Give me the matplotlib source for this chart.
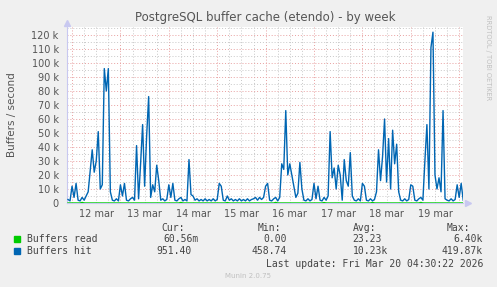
import numpy as np
import pandas as pd
import matplotlib
matplotlib.use("Agg")
import matplotlib.pyplot as plt
import matplotlib.dates as mdates
from matplotlib.ticker import MultipleLocator, FuncFormatter, NullFormatter
from matplotlib.patches import Rectangle

# hourly values (thousands of buffers / second), starting 11 mar 22:00
hit_k = [2.5, 1.5,
         # 12 mar
         12, 4, 14, 2, 1.5, 4, 2, 5, 8, 23, 38, 22, 30, 51, 10, 13, 96, 80, 96, 8, 2, 1.5, 3, 1.5,
         # 13 mar
         13, 5, 14, 2, 1.5, 3, 4, 2, 41, 3, 28, 56, 12, 48, 76, 4, 13, 8, 27, 16, 2, 3, 1.5, 2.5,
         # 14 mar
         13, 4, 14, 2, 1.5, 3, 4, 1.5, 2.5, 1.5, 31, 6, 5, 2, 3, 1.5, 2.5, 1.5, 3, 1.5, 2.5, 1.5, 3, 1.5,
         # 15 mar
         2.5, 14, 12, 2, 1.5, 5, 2, 3, 1.5, 2.5, 1.5, 3, 1.5, 2.5, 1.5, 3, 1.5, 2.5, 3, 4, 2, 4, 2.5, 4,
         # 16 mar
         12, 14, 2, 1.5, 3, 4, 1.5, 4, 28, 24, 66, 20, 28, 20, 12, 4, 7, 29, 10, 2, 1.5, 3, 1.5, 2.5,
         # 17 mar
         14, 3, 12, 2, 1.5, 4, 2, 5, 51, 18, 25, 10, 27, 20, 2, 31, 16, 12, 36, 5, 2, 1.5, 3, 1.5,
         # 18 mar
         14, 12, 2, 1.5, 3, 1.5, 2.5, 8, 38, 16, 33, 60, 15, 46, 10, 52, 28, 42, 8, 2, 1.5, 3, 1.5, 2.5,
         # 19 mar
         13, 12, 2, 1.5, 3, 4, 2, 30, 56, 10, 111, 122, 20, 10, 18, 8, 66, 3, 2, 1.5, 3, 1.5, 2.5, 13,
         # 20 mar
         4, 14, 2]

# buffers read: almost always zero, a few tiny blips
read_hours = [7, 56, 79, 103, 127, 151, 175]
read_k = [0.4, 0.4, 0.3, 0.4, 0.3, 0.4, 0.4]

times = pd.date_range("2026-03-11 22:00", periods=len(hit_k), freq="h")
read = np.zeros(len(hit_k))
read[read_hours] = read_k

day_labels = ["12 mar", "13 mar", "14 mar", "15 mar", "16 mar", "17 mar", "18 mar", "19 mar"]

W, H = 497, 287
fig = plt.figure(figsize=(W / 100, H / 100), dpi=100, facecolor="#F0F0F0")
ax = fig.add_axes([67 / W, 1 - 203 / H, (463 - 67) / W, (203 - 27) / H])
ax.set_facecolor("white")

ax.plot(times, read, color="#00CC00", lw=1.0, zorder=3)
ax.plot(times, hit_k, color="#0066B3", lw=1.0, zorder=4)

ax.set_xlim(pd.Timestamp("2026-03-11 21:30"), pd.Timestamp("2026-03-20 01:54"))
ax.set_ylim(0, 125.7)

# y axis
ax.yaxis.set_major_locator(MultipleLocator(10))
ax.yaxis.set_minor_locator(MultipleLocator(5))
ax.yaxis.set_major_formatter(FuncFormatter(lambda v, p: "0" if v == 0 else f"{int(v)} k"))

# x axis: midnight major, 6h minor, labels at noon
ax.xaxis.set_major_locator(mdates.HourLocator(byhour=[0]))
ax.xaxis.set_minor_locator(mdates.HourLocator(byhour=[6, 12, 18]))
ax.xaxis.set_major_formatter(NullFormatter())


def noon_label(x, pos):
    d = mdates.num2date(x)
    if d.hour == 12 and 12 <= d.day <= 19:
        return day_labels[d.day - 12]
    return ""


ax.xaxis.set_minor_formatter(FuncFormatter(noon_label))

red = "#E8A0A0"
grey = "#C8C8C8"
ax.grid(which="major", color=red, lw=0.7, linestyle=(0, (1, 2)), zorder=1)
ax.grid(which="minor", color=grey, lw=0.7, linestyle=(0, (1, 2)), zorder=1)
ax.set_axisbelow(True)

ax.tick_params(which="both", length=0, labelsize=7, labelcolor="#555555")
ax.tick_params(axis="x", which="minor", pad=4)
ax.tick_params(axis="y", pad=6)

for s in ["top", "right"]:
    ax.spines[s].set_visible(False)
ax.spines["left"].set_color("#C8C8F0")
ax.spines["bottom"].set_color("#C8C8F0")

# axis arrows
ax.plot([0], [1.025], marker="^", color="#C8C8F0", ms=5, transform=ax.transAxes, clip_on=False)
ax.plot([1.012], [0], marker=">", color="#C8C8F0", ms=5, transform=ax.transAxes, clip_on=False)

# texts
fig.text(265 / W, 1 - 17 / H, "PostgreSQL buffer cache (etendo) - by week",
         ha="center", va="center", fontsize=8.5, color="#555555")
fig.text(12 / W, 1 - 115 / H, "Buffers / second", rotation=90,
         ha="center", va="center", fontsize=7.5, color="#555555")
fig.text(488 / W, 1 - 58 / H, "RRDTOOL / TOBI OETIKER", rotation=270,
         ha="center", va="center", fontsize=4.8, color="#C0C0C0")
fig.text(248 / W, 1 - 276 / H, "Munin 2.0.75", ha="center", va="center",
         fontsize=5, color="#C0C0C0")

mono = dict(family="DejaVu Sans Mono", fontsize=7, color="#444444", va="center")
fig.text(185 / W, 1 - 228 / H, "Cur:", ha="right", **mono)
fig.text(281 / W, 1 - 228 / H, "Min:", ha="right", **mono)
fig.text(376 / W, 1 - 228 / H, "Avg:", ha="right", **mono)
fig.text(470 / W, 1 - 228 / H, "Max:", ha="right", **mono)

rows = [("Buffers read", "#00CC00", ["60.56m", "0.00", "23.23", "6.40k"], [199, 287, 382, 483], 239),
        ("Buffers hit", "#0066B3", ["951.40", "458.74", "10.23k", "419.87k"], [192, 287, 388, 483], 251)]
for name, col, vals, xs, y in rows:
    fig.patches.append(Rectangle((14 / W, 1 - (y + 3) / H), 6 / W, 6 / H,
                                 transform=fig.transFigure, color=col))
    fig.text(27 / W, 1 - y / H, name, ha="left", **mono)
    for v, x in zip(vals, xs):
        fig.text(x / W, 1 - y / H, v, ha="right", **mono)

fig.text(483 / W, 1 - 264 / H, "Last update: Fri Mar 20 04:30:22 2026", ha="right", **mono)

fig.savefig("out.png", dpi=100, facecolor=fig.get_facecolor())
